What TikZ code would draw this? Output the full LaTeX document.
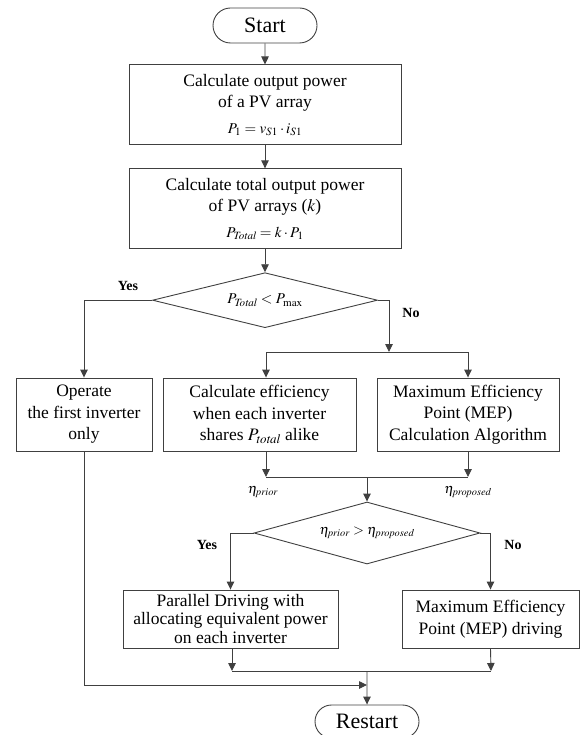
\documentclass[tikz,border=0pt]{standalone}
\usepackage{amsmath}
\usepackage{mathptmx}
\usepackage[no-math]{fontspec}
\setmainfont{Liberation Serif}
\usetikzlibrary{positioning,shapes.geometric,shapes.misc,arrows.meta}

\tikzset{
    terminal/.style={rounded rectangle, draw=black!75, line width=0.9pt, minimum width=104pt, minimum height=35pt, inner sep=0pt, font=\fontsize{22}{26}\selectfont},
    box/.style={rectangle, draw=black!75, line width=0.9pt, align=center, inner sep=0pt, font=\fontsize{17.5}{21.5}\selectfont},
    decision/.style={diamond, draw=black!75, line width=0.9pt, inner sep=0pt, font=\fontsize{15}{18}\selectfont},
    flow/.style={draw=black!75, line width=0.9pt, -{Triangle[length=8pt,width=7.5pt]}},
    line/.style={draw=black!75, line width=0.9pt},
    yesno/.style={font=\fontsize{14}{16}\selectfont\bfseries},
    eta/.style={font=\fontsize{14}{16}\selectfont}
}

\begin{document}
\begin{tikzpicture}[x=1pt,y=1pt]
        \useasboundingbox (0,0) rectangle (581,-735);
        \node (start) [terminal] at (265,-25.5) {Start};
        \node (calc1) [box, below = 21pt of start, minimum width=272pt, minimum height=80pt] {Calculate output power\\of a PV array\\[4pt]{\fontsize{15}{18}\selectfont $P_1=v_{S1}\cdot i_{S1}$}};
        \node (calc2) [box, below = 23pt of calc1, minimum width=272pt, minimum height=80pt] {Calculate total output power\\of PV arrays ($k$)\\[4pt]{\fontsize{15}{18}\selectfont $P_{\mathit{Total}}=k\cdot P_1$}};
        \node (dec1) [decision, below = 23pt of calc2, aspect=4, minimum width=225pt, minimum height=55pt] {$P_{\mathit{Total}}<P_{\max}$};
        \node (operate) [box, minimum width=136pt, minimum height=73pt] at (84,-414.5) {Operate\\the first inverter\\only};
        \node (effcalc) [box, minimum width=193pt, minimum height=73pt] at (259.5,-414.5) {Calculate efficiency\\when each inverter\\shares $P_{\mathit{total}}$ alike};
        \node (mepcalc) [box, minimum width=182pt, minimum height=73pt] at (468,-414.5) {Maximum Efficiency\\Point (MEP)\\Calculation Algorithm};
        \node (dec2) [decision, aspect=3.6, minimum width=226pt, minimum height=62pt, font=\fontsize{14}{16}\selectfont] at (367,-533) {$\eta_{\mathit{prior}}>\eta_{\mathit{proposed}}$};
        \node (parallel) [box, minimum width=215pt, minimum height=58pt, font=\fontsize{17.5}{18.5}\selectfont] at (230.5,-619) {Parallel Driving with\\allocating equivalent power\\on each inverter};
        \node (mepdrive) [box, minimum width=177pt, minimum height=58pt] at (490.5,-619) {Maximum Efficiency\\Point (MEP) driving};
        \node (restart) [terminal, minimum height=33pt] at (367,-721.5) {Restart};
        % labels
        \node (yes1) [yesno] at (128,-286) {Yes};
        \node (no1) [yesno] at (411,-313) {No};
        \node (yes2) [yesno] at (207,-545) {Yes};
        \node (no2) [yesno] at (513,-545) {No};
        \node (etaprior) [eta] at (263,-492) {$\eta_{\mathit{prior}}$};
        \node (etaproposed) [eta] at (468,-492) {$\eta_{\mathit{proposed}}$};
        % junctions
        \coordinate (j1) at (389,-352);
        \coordinate (j1l) at (266,-352);
        \coordinate (j1r) at (468,-352);
        \coordinate (j2l) at (266,-477);
        \coordinate (j2r) at (468,-477);
        \coordinate (j2) at (367,-477);
        \coordinate (j3l) at (232,-671);
        \coordinate (j3r) at (491,-671);
        \coordinate (j3) at (367,-671);
        \coordinate (j4) at (367,-685);
        \draw[flow] (start) -- (calc1);
        \draw[flow] (calc1) -- (calc2);
        \draw[flow] (calc2) -- (dec1);
        \draw[flow] (dec1.west) -| (operate.north);
        \draw[flow] (dec1.east) -| (j1);
        \draw[line] (j1l) -- (j1r);
        \draw[flow] (j1l) -- (j1l |- effcalc.north);
        \draw[flow] (j1r) -- (mepcalc.north);
        \draw[flow] (effcalc.south -| j2l) -- (j2l);
        \draw[flow] (mepcalc.south) -- (j2r);
        \draw[line] (j2l) -- (j2r);
        \draw[flow] (j2) -- (dec2);
        \draw[flow] (dec2.west) -| (parallel.north);
        \draw[flow] (dec2.east) -| (mepdrive.north);
        \draw[flow] (parallel.south -| j3l) -- (j3l);
        \draw[flow] (mepdrive.south) -- (j3r);
        \draw[line] (j3l) -- (j3r);
        \draw[flow] (j3) -- (restart);
        \draw[flow] (operate.south) |- (j4);
    \end{tikzpicture}
\end{document}
